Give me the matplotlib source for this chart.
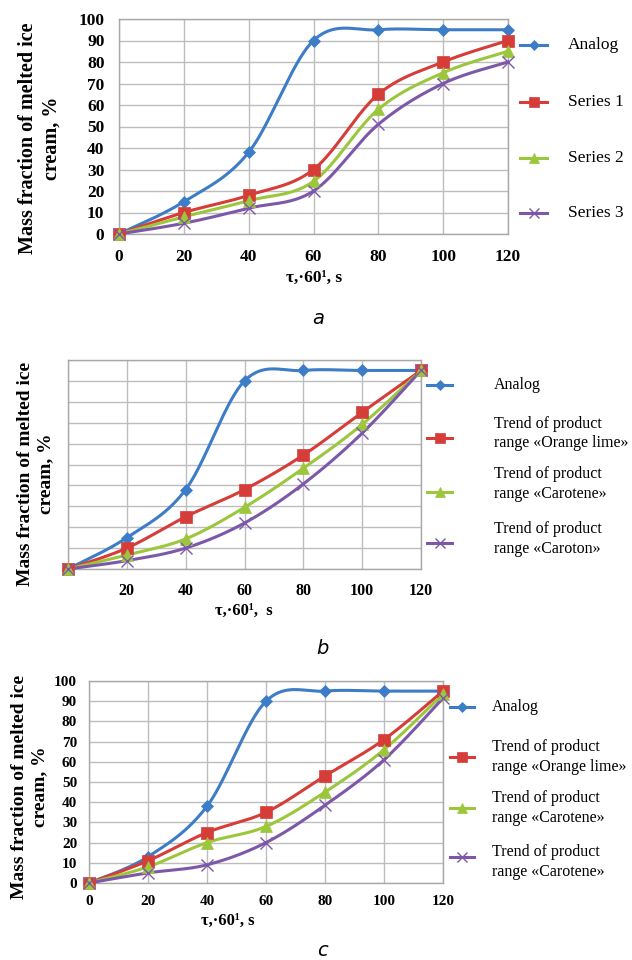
import numpy as np
import matplotlib
matplotlib.use("Agg")
import matplotlib.pyplot as plt
from matplotlib.lines import Line2D

plt.rcParams['font.family'] = ['Liberation Serif', 'DejaVu Serif']

# ---------------- data ----------------
x_a = [0, 20, 40, 60, 80, 100, 120]
a_analog = [0, 15, 38, 90, 95, 95, 95]
a_series1 = [0, 10, 18, 30, 65, 80, 90]
a_series2 = [0, 8, 15.5, 24.5, 58, 75, 85]
a_series3 = [0, 5, 12, 20, 51, 70, 80]
labels_a = ["Analog", "Series 1", "Series 2", "Series 3"]

x_b = [0, 20, 40, 60, 80, 100, 120]
b_analog = [0, 15, 38, 90, 95, 95, 95]
b_orange = [0, 10, 25, 38, 54.5, 75, 95]
b_carotene = [0, 6.7, 14.4, 29.5, 48.2, 69.2, 95]
b_caroton = [0, 4, 10, 22, 40.7, 65, 95]
labels_b = ["Analog", ["Trend of product", "range «Orange lime»"],
            ["Trend of product", "range «Carotene»"],
            ["Trend of product", "range «Caroton»"]]

x_c = [0, 20, 40, 60, 80, 100, 120]
c_analog = [0, 13, 38, 90, 95, 95, 95]
c_orange = [0, 11, 25, 35, 53, 71, 95]
c_carotene = [0, 8, 20, 28, 45, 66, 93.5]
c_carotene2 = [0, 5, 9, 20, 38.5, 61, 91.5]
labels_c = ["Analog", ["Trend of product", "range «Orange lime»"],
            ["Trend of product", "range «Carotene»"],
            ["Trend of product", "range «Carotene»"]]

y_ticks = list(range(0, 101, 10))
x_ticks_a = [0, 20, 40, 60, 80, 100, 120]
x_ticks_b = [20, 40, 60, 80, 100, 120]

# ---------------- styles ----------------
W, H = 632, 960
COLORS = ["#3d7cc6", "#d63d39", "#9cc63c", "#7e58a8"]
MARKERS = ["D", "s", "^", "x"]
MS = [6, 8, 8.5, 8.5]
LEG_MS = [5, 7, 7, 7]
GRID = "#bdbdbd"

fig = plt.figure(figsize=(W / 100, H / 100), dpi=100)


def px(x, y):
    return x / W, 1 - y / H


def add_axes(l, t, r, b):
    return fig.add_axes([l / W, 1 - b / H, (r - l) / W, (b - t) / H])


def smooth(xs, ys, n=40):
    xs = np.asarray(xs, float)
    ys = np.asarray(ys, float)
    P = np.column_stack([xs, ys])
    Pe = np.vstack([P[0], P, P[-1]])
    out = []
    t = np.linspace(0, 1, n)[:, None]
    for i in range(len(P) - 1):
        p0, p1, p2, p3 = Pe[i], Pe[i + 1], Pe[i + 2], Pe[i + 3]
        c1 = p1 + (p2 - p0) / 6
        c2 = p2 - (p3 - p1) / 6
        seg = ((1 - t) ** 3) * p1 + 3 * ((1 - t) ** 2) * t * c1 + 3 * (1 - t) * t ** 2 * c2 + t ** 3 * p2
        out.append(seg if i == 0 else seg[1:])
    s = np.vstack(out)
    return s[:, 0], s[:, 1]


def draw_panel(ax, xs, series, xticks, show_y, tick_fs, pad):
    for k, ys in enumerate(series):
        sx, sy = smooth(xs, ys)
        ax.plot(sx, sy, color=COLORS[k], lw=2.2, zorder=3, clip_on=False)
        ax.plot(xs, ys, linestyle="none", marker=MARKERS[k], ms=MS[k],
                color=COLORS[k], mec=COLORS[k], mew=1.0 if k == 3 else 0.5,
                zorder=4, clip_on=False)
    ax.set_xlim(0, 120)
    ax.set_ylim(0, 100)
    ax.set_xticks(x_ticks_a)
    ax.set_yticks(y_ticks)
    ax.grid(True, color=GRID, lw=1.0)
    ax.set_axisbelow(True)
    for sp in ax.spines.values():
        sp.set_color("#a8a8a8")
        sp.set_linewidth(1.0)
    ax.tick_params(length=0, labelsize=tick_fs, pad=pad)
    ax.set_xticklabels([str(v) if v in xticks else "" for v in x_ticks_a],
                       fontweight="bold")
    if show_y:
        ax.set_yticklabels([str(v) for v in y_ticks], fontweight="bold")
    else:
        ax.set_yticklabels([])


def legend(xl0, xl1, xt, rows, labels, fs):
    for k, (my, ty) in enumerate(rows):
        x0, y0 = px(xl0, my)
        x1, _ = px(xl1, my)
        fig.add_artist(Line2D([x0, x1], [y0, y0], color=COLORS[k], lw=2.2,
                              transform=fig.transFigure))
        fig.add_artist(Line2D([(x0 + x1) / 2], [y0], color=COLORS[k],
                              marker=MARKERS[k], ms=LEG_MS[k],
                              mew=1.0 if k == 3 else 0.5,
                              transform=fig.transFigure))
        lab = labels[k]
        if isinstance(lab, str):
            fig.text(*px(xt, ty[0]), lab, fontsize=fs, va="center", ha="left")
        else:
            for line, yy in zip(lab, ty):
                fig.text(*px(xt, yy), line, fontsize=fs, va="center", ha="left")


def ylabel(xc, yc, fs):
    fig.text(*px(xc, yc), "Mass fraction of melted ice\ncream, %", rotation=90,
             ha="center", va="center", fontsize=fs, fontweight="bold",
             linespacing=1.25, multialignment="center")


# ---------------- panel a ----------------
ax_a = add_axes(119, 19, 508, 234)
draw_panel(ax_a, x_a, [a_analog, a_series1, a_series2, a_series3],
           x_ticks_a, True, 12.5, 10.5)
ylabel(40, 138, 14.5)
fig.text(*px(314, 278), "τ,·60¹, s", ha="center", va="center",
         fontsize=12.5, fontweight="bold")
legend(520, 547, 568, [(45, [45]), (102, [102]), (158, [158]), (213, [213])],
       labels_a, 12.5)
fig.text(*px(318, 318), "a", ha="center", va="center", fontsize=14,
         style="italic", family="DejaVu Sans")

# ---------------- panel b ----------------
ax_b = add_axes(68, 360, 421, 569)
draw_panel(ax_b, x_b, [b_analog, b_orange, b_carotene, b_caroton],
           x_ticks_b, False, 11.5, 10)
ylabel(36, 474, 14)
fig.text(*px(244, 611), "τ,·60¹,  s", ha="center", va="center",
         fontsize=12, fontweight="bold")
legend(427, 452, 494, [(385, [385]), (438, [424, 443]), (492, [474, 494]),
                       (543, [529, 549])], labels_b, 11.5)
fig.text(*px(322, 648), "b", ha="center", va="center", fontsize=14,
         style="italic", family="DejaVu Sans")

# ---------------- panel c ----------------
ax_c = add_axes(89, 681, 443, 883)
draw_panel(ax_c, x_c, [c_analog, c_orange, c_carotene, c_carotene2],
           x_ticks_a, True, 11, 8.5)
ylabel(30, 787, 14)
fig.text(*px(228, 921), "τ,·60¹, s", ha="center", va="center",
         fontsize=12, fontweight="bold")
legend(450, 474, 492, [(707, [707]), (757, [747, 767]), (808, [798, 818]),
                       (857, [852, 872])], labels_c, 11.5)
fig.text(*px(322, 951), "c", ha="center", va="center", fontsize=14,
         style="italic", family="DejaVu Sans")

fig.savefig("out.png", dpi=100, facecolor="white")
